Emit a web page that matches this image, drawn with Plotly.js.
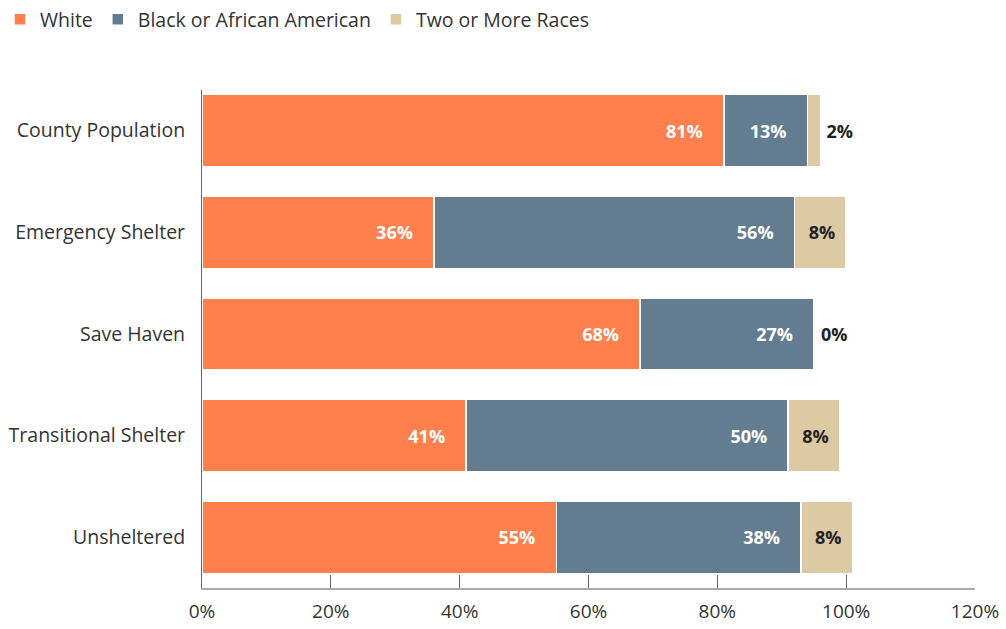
<!DOCTYPE html>
<html>
<head>
<meta charset="utf-8">
<script src="https://cdn.plot.ly/plotly-3.0.1.min.js"></script>
<style>html,body{margin:0;padding:0;background:#fff;}#chart{width:1006px;height:629px;}</style>
</head>
<body>
<div id="chart"></div>
<script>
const categories = ["County Population", "Emergency Shelter", "Save Haven", "Transitional Shelter", "Unsheltered"];
const white = [81, 36, 68, 41, 55];
const black = [13, 56, 27, 50, 38];
const twoOrMore = [2, 8, 0, 8, 8];
const seriesNames = ["White", "Black or African American", "Two or More Races"];
const xTicks = [0, 20, 40, 60, 80, 100, 120];
const xTickLabels = ["0%", "20%", "40%", "60%", "80%", "100%", "120%"];

const FONT = "'Open Sans', sans-serif";
const BFONT = "'Open Sans', sans-serif";
const PAD = "\u2002\u2002";

function bar(name, vals, color, textColor, pos, anchor, pre, post) {
  return {
    type: "bar", orientation: "h", name: name,
    y: categories, x: vals,
    marker: {color: color, line: {color: "#ffffff", width: 1.5}},
    text: vals.map(v => pre + v + "%" + post),
    textposition: pos,
    insidetextanchor: anchor,
    insidetextfont: {family: BFONT, size: 18, color: textColor, weight: 700},
    outsidetextfont: {family: BFONT, size: 18, color: "#222222", weight: 700},
    textangle: 0,
    cliponaxis: false,
    hoverinfo: "skip"
  };
}

const data = [
  bar(seriesNames[0], white, "#FF7F4D", "#ffffff", "inside", "end", "", PAD),
  bar(seriesNames[1], black, "#647C90", "#ffffff", "inside", "end", "", PAD),
  bar(seriesNames[2], twoOrMore, "#DDCAA5", "#222222", "auto", "middle", "\u2009", "")
];

// zero-width segments get no bar text from Plotly; label them at the stack end
const annotations = [];
twoOrMore.forEach((v, i) => {
  if (v === 0) {
    annotations.push({
      x: white[i] + black[i] + v, y: categories[i], xref: "x", yref: "y",
      text: "<b>" + v + "%</b>", showarrow: false, xanchor: "left", xshift: 5,
      font: {family: BFONT, size: 18, color: "#222222"}
    });
  }
});

const layout = {
  width: 1006, height: 629,
  margin: {l: 202, r: 31, t: 90, b: 41},
  paper_bgcolor: "#fff", plot_bgcolor: "#fff",
  barmode: "stack",
  bargap: 0.29,
  font: {family: FONT, color: "#333333", size: 18},
  showlegend: true,
  legend: {orientation: "h", xref: "container", yref: "container",
    x: 0, xanchor: "left", y: 1, yanchor: "top",
    font: {family: FONT, size: 19.5, color: "#333333"}, traceorder: "normal",
    itemwidth: 30, tracegroupgap: 0},
  annotations: annotations,
  xaxis: {
    range: [0, 120], tickvals: xTicks, ticktext: xTickLabels,
    showgrid: false, zeroline: false,
    showline: true, linecolor: "#aaaaaa", linewidth: 1.5,
    ticks: "inside", ticklen: 13, tickcolor: "#666666", tickwidth: 1,
    ticklabelstandoff: 6,
    tickfont: {family: FONT, size: 19, color: "#333333"},
    layer: "above traces",
    fixedrange: true
  },
  yaxis: {
    autorange: false, range: [4.5, -0.4],
    showgrid: false, zeroline: false,
    showline: true, linecolor: "#666666", linewidth: 1,
    ticks: "", ticklabelstandoff: 12,
    tickfont: {family: FONT, size: 19.5, color: "#333333"},
    fixedrange: true
  }
};

Plotly.newPlot("chart", data, layout, {displayModeBar: false, staticPlot: true});
</script>
</body>
</html>
